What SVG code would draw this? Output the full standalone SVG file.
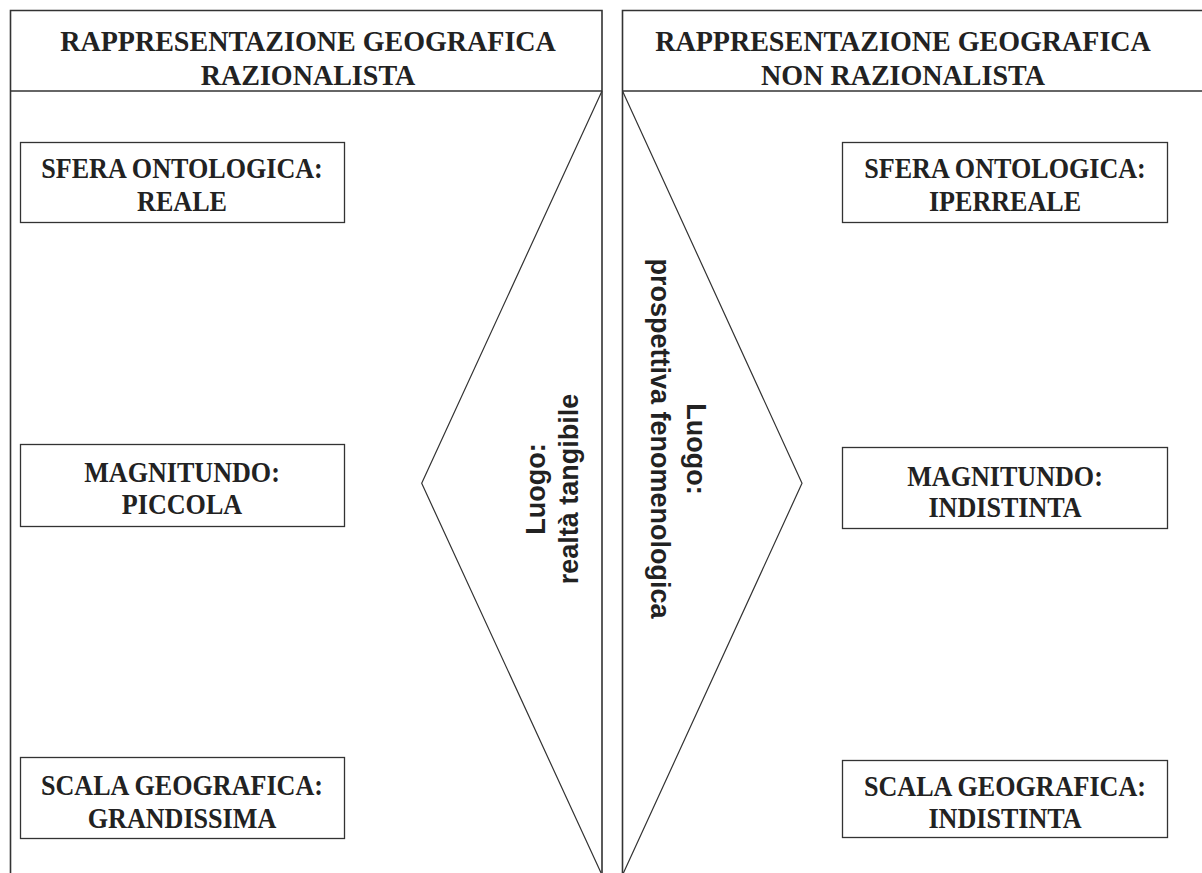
<svg xmlns="http://www.w3.org/2000/svg" width="1202" height="873" viewBox="0 0 1202 873">
<style>
.frame{fill:none;stroke:#333;stroke-width:1.6}
.box{fill:#fff;stroke:#333;stroke-width:1.3}
.tri{fill:none;stroke:#333;stroke-width:1.2}
.hd{font-family:"Liberation Serif","Times New Roman",serif;font-weight:bold;font-size:30px;fill:#222;text-anchor:middle}
.bt{font-family:"Liberation Serif","Times New Roman",serif;font-weight:bold;font-size:30px;fill:#222;text-anchor:middle}
.vt{font-family:"Liberation Sans",Arial,sans-serif;font-weight:bold;font-size:27px;fill:#222;text-anchor:middle}
</style>
<rect width="1202" height="873" fill="#fff"/>
<g id="panel-left">
<path class="frame" d="M10.5,880 V10.5 H602 V880"/>
<line class="frame" x1="10.5" y1="91" x2="602" y2="91"/>
<text class="hd" transform="translate(308,51) scale(0.935,1)">RAPPRESENTAZIONE GEOGRAFICA</text>
<text class="hd" transform="translate(308,85) scale(0.935,1)">RAZIONALISTA</text>
</g>
<g id="panel-right">
<path class="frame" d="M622.5,880 V10.5 H1210"/>
<line class="frame" x1="622.5" y1="91" x2="1210" y2="91"/>
<text class="hd" transform="translate(903,51) scale(0.935,1)">RAPPRESENTAZIONE GEOGRAFICA</text>
<text class="hd" transform="translate(903,85) scale(0.935,1)">NON RAZIONALISTA</text>
</g>
<g id="connectors">
<polyline class="tri" points="602,91 421.7,483.3 602,875"/>
<polyline class="tri" points="622.5,91 802,483.3 622.5,875"/>
</g>
<g id="luogo-left">
<g transform="translate(0,489) rotate(-90)">
<text class="vt" x="0" y="545">Luogo:</text>
<text class="vt" x="0" y="578">realtà tangibile</text>
</g>
</g>
<g id="luogo-right">
<text class="vt" transform="translate(0,449) rotate(90)" x="0" y="-687">Luogo:</text>
<text class="vt" transform="translate(0,438.5) rotate(90)" x="0" y="-651">prospettiva fenomenologica</text>
</g>
<g id="sfera-reale">
<rect class="box" x="20.5" y="142.5" width="324" height="80"/>
<text class="bt" transform="translate(182,178) scale(0.87,1)">SFERA ONTOLOGICA:</text>
<text class="bt" transform="translate(182,211) scale(0.87,1)">REALE</text>
</g>
<g id="magnitundo-piccola">
<rect class="box" x="20.5" y="444.5" width="324" height="82"/>
<text class="bt" transform="translate(182,482) scale(0.87,1)">MAGNITUNDO:</text>
<text class="bt" transform="translate(182,514) scale(0.87,1)">PICCOLA</text>
</g>
<g id="scala-grandissima">
<rect class="box" x="20.5" y="757.5" width="324" height="81"/>
<text class="bt" transform="translate(182,795) scale(0.87,1)">SCALA GEOGRAFICA:</text>
<text class="bt" transform="translate(182,828) scale(0.87,1)">GRANDISSIMA</text>
</g>
<g id="sfera-iperreale">
<rect class="box" x="842.5" y="142.5" width="325" height="80"/>
<text class="bt" transform="translate(1005,178) scale(0.87,1)">SFERA ONTOLOGICA:</text>
<text class="bt" transform="translate(1005,211) scale(0.87,1)">IPERREALE</text>
</g>
<g id="magnitundo-indistinta">
<rect class="box" x="842.5" y="447.5" width="325" height="81"/>
<text class="bt" transform="translate(1005,486) scale(0.87,1)">MAGNITUNDO:</text>
<text class="bt" transform="translate(1005,517) scale(0.87,1)">INDISTINTA</text>
</g>
<g id="scala-indistinta">
<rect class="box" x="842.5" y="760.5" width="325" height="77"/>
<text class="bt" transform="translate(1005,796) scale(0.87,1)">SCALA GEOGRAFICA:</text>
<text class="bt" transform="translate(1005,828) scale(0.87,1)">INDISTINTA</text>
</g>
</svg>
